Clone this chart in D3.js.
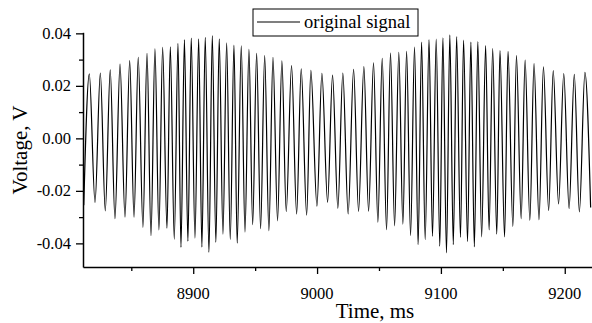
<!DOCTYPE html>
<html>
<head>
<meta charset="utf-8">
<script src="https://cdn.jsdelivr.net/npm/d3@7"></script>
<style>
  html, body { margin: 0; padding: 0; background: #fff; }
  svg { display: block; }
</style>
</head>
<body>
<div id="chart"></div>
<script>
// extrema of the signal (time in ms, voltage in V)
const sigTime = [
  8811.6, 8816.1, 8820.7, 8825.0, 8829.0, 8833.0, 8836.8, 8840.9, 8844.9, 8848.7,
  8852.2, 8855.6, 8859.4, 8862.7, 8865.9, 8869.1, 8872.3, 8875.3, 8878.8, 8881.5,
  8884.7, 8887.7, 8890.1, 8892.9, 8895.7, 8898.4, 8901.4, 8904.4, 8907.0, 8909.7,
  8912.7, 8915.4, 8918.3, 8921.0, 8924.0, 8927.0, 8929.9, 8932.9, 8935.5, 8938.8,
  8941.8, 8945.0, 8948.0, 8951.2, 8954.4, 8957.7, 8961.1, 8964.4, 8968.1, 8971.6,
  8975.1, 8979.4, 8983.5, 8987.2, 8991.6, 8995.0, 8999.9, 9003.9, 9008.5, 9012.5,
  9016.8, 9020.8, 9025.1, 9029.5, 9033.5, 9037.8, 9041.6, 9045.6, 9049.1, 9052.6,
  9056.1, 9059.3, 9062.6, 9066.0, 9069.3, 9072.3, 9075.5, 9078.7, 9081.6, 9084.4,
  9087.3, 9090.4, 9093.2, 9096.2, 9099.1, 9101.6, 9104.5, 9107.2, 9110.0, 9112.7,
  9115.8, 9118.3, 9121.5, 9124.2, 9127.0, 9129.8, 9132.9, 9136.1, 9138.9, 9141.8,
  9145.1, 9147.7, 9151.4, 9154.2, 9158.1, 9161.0, 9164.8, 9168.0, 9171.8, 9175.2,
  9179.2, 9182.8, 9187.0, 9190.7, 9195.0, 9199.2, 9203.5, 9207.7, 9211.8, 9216.3,
  9220.9
];
const sigVolt = [
  -0.0255, 0.0246, -0.0244, 0.0249, -0.0276, 0.0261, -0.0306, 0.0283, -0.0300, 0.0296,
  -0.0300, 0.0309, -0.0339, 0.0324, -0.0371, 0.0341, -0.0349, 0.0347, -0.0342, 0.0349,
  -0.0384, 0.0362, -0.0415, 0.0376, -0.0392, 0.0382, -0.0380, 0.0379, -0.0414, 0.0385,
  -0.0434, 0.0391, -0.0396, 0.0379, -0.0365, 0.0364, -0.0385, 0.0355, -0.0399, 0.0352,
  -0.0357, 0.0339, -0.0329, 0.0324, -0.0344, 0.0315, -0.0352, 0.0309, -0.0314, 0.0295,
  -0.0279, 0.0277, -0.0288, 0.0265, -0.0292, 0.0259, -0.0258, 0.0248, -0.0243, 0.0241,
  -0.0266, 0.0249, -0.0288, 0.0263, -0.0278, 0.0273, -0.0277, 0.0288, -0.0319, 0.0305,
  -0.0348, 0.0325, -0.0333, 0.0328, -0.0327, 0.0331, -0.0370, 0.0348, -0.0405, 0.0367,
  -0.0386, 0.0376, -0.0373, 0.0378, -0.0411, 0.0383, -0.0436, 0.0394, -0.0405, 0.0388,
  -0.0377, 0.0374, -0.0393, 0.0367, -0.0413, 0.0369, -0.0375, 0.0353, -0.0349, 0.0342,
  -0.0365, 0.0334, -0.0375, 0.0331, -0.0335, 0.0315, -0.0306, 0.0298, -0.0312, 0.0285,
  -0.0310, 0.0272, -0.0275, 0.0258, -0.0250, 0.0247, -0.0267, 0.0244, -0.0280, 0.0251,
  -0.0263
];

const xTicks = [8900, 9000, 9100, 9200];
const xMinorTicks = [8850, 8950, 9050, 9150];
const yTicks = [-0.04, -0.02, 0.00, 0.02, 0.04];
const yMinorTicks = [-0.03, -0.01, 0.01, 0.03];
const legendLabel = "original signal";

const serif = "'Liberation Serif'";
const width = 592, height = 323;
const svg = d3.select("#chart").append("svg")
    .attr("width", width)
    .attr("height", height);

const x = d3.scaleLinear().domain([8811, 9222]).range([83, 592]);
const y = d3.scaleLinear().domain([-0.049, 0.0404]).range([267, 32.3]);

const data = sigTime.map((t, i) => ({ t: t, v: sigVolt[i] }));

// signal
const line = d3.line()
    .x(d => x(d.t))
    .y(d => y(d.v))
    .curve(d3.curveMonotoneX);

svg.append("path")
    .datum(data)
    .attr("fill", "none")
    .attr("stroke", "#000")
    .attr("stroke-width", 1.2)
    .attr("d", line);

// x axis (tick marks from d3.axis, labels drawn below as serif text)
svg.append("g")
    .attr("transform", "translate(0,267)")
    .call(d3.axisBottom(x).tickValues(xTicks).tickSize(7).tickFormat("").tickSizeOuter(0));
svg.append("g")
    .attr("transform", "translate(0,267)")
    .call(d3.axisBottom(x).tickValues(xMinorTicks).tickSize(4).tickFormat("").tickSizeOuter(0))
    .select(".domain").remove();

// y axis
svg.append("g")
    .attr("transform", "translate(83,0)")
    .call(d3.axisLeft(y).tickValues(yTicks).tickSize(7).tickFormat("").tickSizeOuter(0));
svg.append("g")
    .attr("transform", "translate(83,0)")
    .call(d3.axisLeft(y).tickValues(yMinorTicks).tickSize(4).tickFormat("").tickSizeOuter(0))
    .select(".domain").remove();

svg.selectAll(".domain").attr("stroke-width", 1.5);
svg.selectAll(".tick line").attr("stroke-width", 1.3);

svg.append("g").selectAll("text")
    .data(xTicks)
    .join("text")
    .attr("x", d => x(d))
    .attr("y", 299)
    .attr("text-anchor", "middle")
    .style("font-family", serif)
    .style("font-size", "16.5px")
    .text(d => String(d));

svg.append("g").selectAll("text")
    .data(yTicks)
    .join("text")
    .attr("x", 71)
    .attr("y", d => y(d) + 5.5)
    .attr("text-anchor", "end")
    .style("font-family", serif)
    .style("font-size", "16.5px")
    .text(d => d.toFixed(2));

// axis titles
svg.append("text")
    .attr("x", 375)
    .attr("y", 318)
    .attr("text-anchor", "middle")
    .style("font-family", serif)
    .style("font-size", "21px")
    .text("Time, ms");

svg.append("text")
    .attr("transform", "translate(27,150) rotate(-90)")
    .attr("text-anchor", "middle")
    .style("font-family", serif)
    .style("font-size", "21px")
    .text("Voltage, V");

// legend
const legend = svg.append("g");
legend.append("rect")
    .attr("x", 253).attr("y", 9)
    .attr("width", 165).attr("height", 27)
    .attr("fill", "#fff")
    .attr("stroke", "#000")
    .attr("stroke-width", 1);
legend.append("line")
    .attr("x1", 257).attr("x2", 300)
    .attr("y1", 22).attr("y2", 22)
    .attr("stroke", "#000")
    .attr("stroke-width", 1.2);
legend.append("text")
    .attr("x", 304).attr("y", 28)
    .style("font-family", serif)
    .style("font-size", "18.5px")
    .text(legendLabel);
</script>
</body>
</html>
